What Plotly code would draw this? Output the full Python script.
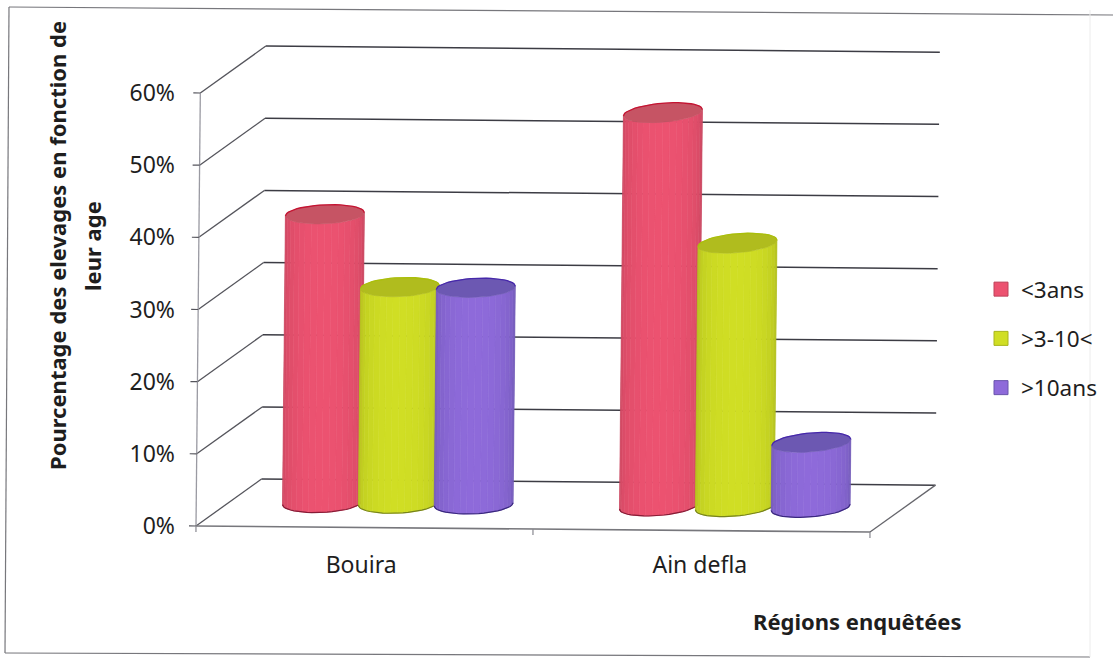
import math
import plotly.graph_objects as go

# ---- data ----
regions = ["Bouira", "Ain defla"]
region_pos = [0.49, 1.495]
bar_centres = [0.49, 1.49]
series_names = ["<3ans", ">3-10<", ">10ans"]
series_vals = [[40, 54.5], [30, 36.5], [30, 9]]
y_ticks = [0, 10, 20, 30, 40, 50, 60]
y_labels = ["0%", "10%", "20%", "30%", "40%", "50%", "60%"]
body_rgb = [(236, 82, 112), (208, 222, 36), (142, 106, 218)]
edge_rgb = [(190, 66, 90), (168, 180, 28), (104, 84, 172)]
top_rgb = [(198, 84, 100), (176, 188, 30), (108, 88, 178)]
rim_rgb = [(196, 20, 50), (170, 190, 10), (70, 40, 170)]

# ---- page geometry ----
W, H = 1113, 659
AX_L, AX_R = 196, 870          # pixel span of x axis 0..2
Y0_PX, Y60_PX = 524, 91        # pixel span of y axis 0..60
PX_X = (AX_R - AX_L) / 2
PX_Y = (Y0_PX - Y60_PX) / 60
DEPTH_X, DEPTH_Y = 65, 47.5    # oblique depth offset in px
TILT_X, TILT_Y = 0.01, 0.009   # the scan is slightly rotated
BASE_DROP = 2

def proj(x, v, d=0.0, dx_px=0.0, dy_px=0.0):
    """Data position -> axis coordinates, with depth, scan tilt, and px nudges."""
    px = PX_X * x + DEPTH_X * d + dx_px          # px to the right of axis start
    py = PX_Y * v + DEPTH_Y * d + dy_px          # px above the zero line
    tx = px + TILT_X * py
    ty = py - TILT_Y * px - BASE_DROP
    return tx / PX_X, ty / PX_Y

def line(points, color, width):
    xs, ys = zip(*points)
    return go.Scatter(x=list(xs), y=list(ys), mode="lines",
                      line=dict(color=color, width=width), hoverinfo="skip", showlegend=False)

def poly(points, color, line_color=None, width=0.6):
    xs, ys = zip(*points)
    return go.Scatter(x=list(xs) + [xs[0]], y=list(ys) + [ys[0]], mode="lines", fill="toself",
                      fillcolor=color,
                      line=dict(color=line_color or color, width=width),
                      hoverinfo="skip", showlegend=False)

def rgb(c):
    return "rgb(%d,%d,%d)" % tuple(round(k) for k in c)

def mix(a, b, f):
    return tuple(a[i] + (b[i] - a[i]) * f for i in range(3))

fig = go.Figure()

# walls and gridlines
GRID = "#3c3c44"
for v in y_ticks:
    fig.add_trace(line([proj(0, v), proj(0, v, 1)], "#55555c", 1.3))
    fig.add_trace(line([proj(0, v, 1), proj(2, v, 1)], GRID, 1.5))
fig.add_trace(line([proj(2, 0, 1), proj(2, 0)], "#66666c", 1.3))

# axes lines and tick marks
AX = "#77777c"
fig.add_trace(line([proj(0, 0), proj(0, 60)], "#9a9aa2", 1.3))
fig.add_trace(line([proj(0, 0), proj(2, 0)], AX, 1.6))
for v in y_ticks:
    fig.add_trace(line([proj(0, v, 0, -7), proj(0, v)], "#55555c", 1.2))
for x in (0, 1, 2):
    fig.add_trace(line([proj(x, 0), proj(x, 0, 0, 0, -6)], "#888890", 1.2))

# cylinders
R_X, R_Y = 39.5, 9.5
SKEW = [2.0, 3.5]              # how far the ellipses lean, per region
DEPTH_MID = 0.53
SPACING = 0.225
BAR_SHIFT_X, BAR_SHIFT_Y = 2.0, -1.0
N = 18

def ring(x, v, theta, skew):
    return proj(x, v, DEPTH_MID, R_X * math.cos(theta) + BAR_SHIFT_X,
                R_Y * math.sin(theta) + skew * math.cos(theta) + BAR_SHIFT_Y)

for r, centre in enumerate(bar_centres):
    sk = SKEW[r]
    for s, vals in enumerate(series_vals):
        x = centre + (s - 1) * SPACING
        v = vals[r]
        # front surface, left to right, in vertical strips
        for i in range(N):
            a0 = math.pi + math.pi * i / N
            a1 = math.pi + math.pi * (i + 1) / N
            mid = (a0 + a1) / 2
            f = abs(math.sin(mid)) ** 0.55
            col = rgb(mix(edge_rgb[s], body_rgb[s], f))
            fig.add_trace(poly([ring(x, v, a0, sk), ring(x, v, a1, sk), ring(x, 0, a1, sk), ring(x, 0, a0, sk)], col))
        # top ellipse
        fig.add_trace(poly([ring(x, v, 2 * math.pi * k / 48, sk) for k in range(48)], rgb(top_rgb[s]), rgb(top_rgb[s])))
        fig.add_trace(line([ring(x, v, math.pi * k / 24, sk) for k in range(25)], rgb(rim_rgb[s]), 1.3))
        fig.add_trace(line([ring(x, 0, math.pi + math.pi * k / 24, sk) for k in range(25)], rgb(mix(rim_rgb[s], (40, 40, 60), 0.4)), 1.2))

# legend entries
for s, name in enumerate(series_names):
    fig.add_trace(go.Scatter(x=[None], y=[None], mode="markers", name=name, legendgroup=name,
                             marker=dict(symbol="square", size=14, color=rgb(body_rgb[s]),
                                         line=dict(color=rgb(edge_rgb[s]), width=1))))

# page frame of the scan
FRAME = "#77777c"
frame_lines = [((9, 7), (1113, 15)), ((9, 7), (5, 653)), ((5, 653), (1090, 657))]
shapes = [dict(type="line", xref="paper", yref="paper", x0=a[0] / W, y0=1 - a[1] / H,
               x1=b[0] / W, y1=1 - b[1] / H, line=dict(color=FRAME, width=1.2), layer="below")
          for a, b in frame_lines]
shapes.append(dict(type="line", xref="paper", yref="paper", x0=1090 / W, y0=1 - 10 / H, x1=1090 / W, y1=1 - 657 / H,
                   line=dict(color="#ececec", width=1), layer="below"))

TEXT = "#1e1e1e"
FONT = "Noto Sans"
def note(text, px, py, size, bold=False, angle=0):
    return dict(text="<b>%s</b>" % text if bold else text, xref="paper", yref="paper",
                x=px / W, y=1 - py / H, xanchor="center", yanchor="middle", showarrow=False,
                textangle=angle, font=dict(family=FONT, size=size, color=TEXT))

fig.update_layout(
    width=W, height=H, autosize=False,
    margin=dict(l=0, r=0, t=0, b=0, pad=0, autoexpand=False),
    paper_bgcolor="white", plot_bgcolor="rgba(0,0,0,0)",
    font=dict(family=FONT, color=TEXT),
    xaxis=dict(domain=[0, 1], range=[-AX_L / PX_X, (W - AX_L) / PX_X], showgrid=False, zeroline=False, showline=False,
               anchor="free", position=1 - Y0_PX / H,
               automargin=False, tickmode="array", tickvals=region_pos, ticktext=regions, ticks="", ticklen=0,
               ticklabelstandoff=25, tickfont=dict(family=FONT, size=23, color=TEXT)),
    yaxis=dict(domain=[0, 1], range=[-(H - Y0_PX) / PX_Y, Y0_PX / PX_Y], showgrid=False, zeroline=False, showline=False,
               anchor="free", position=AX_L / W,
               automargin=False, tickmode="array", tickvals=y_ticks, ticktext=y_labels, ticks="",
               ticklabelstandoff=21, ticklabelshift=2, tickfont=dict(family=FONT, size=23, color=TEXT)),
    legend=dict(x=981 / W, y=1 - 268 / H, xanchor="left", yanchor="top", tracegroupgap=17,
                font=dict(family=FONT, size=22.5, color=TEXT), bgcolor="rgba(0,0,0,0)", itemwidth=30),
    shapes=shapes,
    annotations=[
        note("Pourcentage des elevages en fonction de", 57, 246, 22, True, -90),
        note("leur age", 92, 246, 22, True, -90),
        note("Régions enquêtées", 857, 621, 22, True),
    ],
)

fig.write_html("out.html", config=dict(displayModeBar=False),
               post_script="document.body.style.margin='0';document.body.style.overflow='hidden';")
